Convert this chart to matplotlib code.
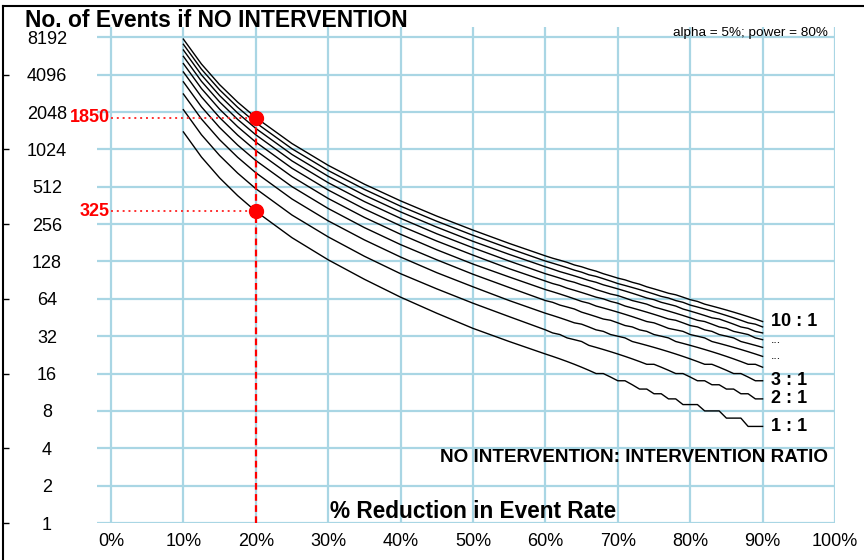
import matplotlib
matplotlib.use("Agg")
import matplotlib.pyplot as plt
from matplotlib.lines import Line2D
from matplotlib.ticker import NullLocator, FixedLocator

plt.rcParams['font.family'] = ['Liberation Sans', 'DejaVu Sans']

# % reduction in event rate (x); coarse where curves are steep, 1% steps in the tail
reduction = [0.10, 0.125, 0.15, 0.175, 0.20, 0.25, 0.30, 0.35, 0.40, 0.45, 0.50, 0.55,
             0.60, 0.61, 0.62, 0.63, 0.64, 0.65, 0.66, 0.67, 0.68, 0.69, 0.70,
             0.71, 0.72, 0.73, 0.74, 0.75, 0.76, 0.77, 0.78, 0.79, 0.80,
             0.81, 0.82, 0.83, 0.84, 0.85, 0.86, 0.87, 0.88, 0.89, 0.90]

# events needed if no intervention, one list per no-intervention:intervention ratio
events_1 = [1416, 888, 604, 434, 325, 199, 132, 92, 66, 49, 37, 29,
            23, 22, 21, 20, 19, 18, 17, 16, 16, 15, 14, 14, 13, 12, 12, 11, 11, 10, 10, 9,
            9, 9, 8, 8, 8, 7, 7, 7, 6, 6, 6]
events_2 = [2139, 1343, 915, 659, 494, 303, 202, 141, 102, 77, 59, 46,
            36, 34, 33, 31, 30, 29, 27, 26, 25, 24, 23, 22, 21, 20, 19, 19, 18, 17, 16, 16,
            15, 14, 14, 13, 13, 12, 12, 11, 11, 10, 10]
events_3 = [2862, 1799, 1226, 884, 664, 408, 272, 191, 139, 104, 80, 62,
            49, 47, 45, 43, 41, 40, 38, 36, 35, 33, 32, 31, 29, 28, 27, 26, 25, 24, 23, 22,
            21, 20, 19, 19, 18, 17, 16, 16, 15, 14, 14]
events_4 = [3585, 2254, 1537, 1109, 833, 513, 342, 240, 175, 132, 101, 79,
            62, 60, 57, 55, 53, 50, 48, 46, 44, 43, 41, 39, 38, 36, 35, 33, 32, 31, 29, 28,
            27, 26, 25, 24, 23, 22, 21, 20, 19, 19, 18]
events_5 = [4307, 2710, 1849, 1334, 1003, 618, 412, 290, 212, 159, 122, 96,
            76, 73, 70, 67, 64, 61, 59, 56, 54, 52, 50, 48, 46, 44, 42, 41, 39, 37, 36, 35,
            33, 32, 31, 29, 28, 27, 26, 25, 24, 23, 22]
events_6 = [5030, 3165, 2160, 1559, 1172, 722, 482, 339, 248, 187, 144, 112,
            89, 85, 82, 78, 75, 72, 69, 66, 64, 61, 59, 56, 54, 52, 50, 48, 46, 44, 43, 41,
            39, 38, 36, 35, 33, 32, 31, 29, 28, 27, 26]
events_7 = [5753, 3620, 2471, 1785, 1342, 827, 552, 389, 285, 214, 165, 129,
            102, 98, 94, 90, 87, 83, 80, 76, 73, 70, 68, 65, 62, 60, 58, 55, 53, 51, 49, 47,
            45, 43, 42, 40, 38, 37, 35, 34, 33, 31, 30]
events_8 = [6475, 4076, 2782, 2010, 1511, 932, 622, 438, 321, 242, 186, 146,
            116, 111, 106, 102, 98, 94, 90, 87, 83, 80, 77, 74, 71, 68, 65, 63, 60, 58, 56, 53,
            51, 49, 47, 45, 44, 42, 40, 38, 37, 35, 34]
events_9 = [7198, 4531, 3094, 2235, 1680, 1036, 692, 488, 357, 270, 208, 163,
            129, 124, 119, 114, 109, 105, 100, 97, 93, 89, 85, 82, 79, 76, 73, 70, 67, 65, 62, 60,
            57, 55, 53, 51, 49, 47, 45, 43, 41, 40, 38]
events_10 = [7921, 4987, 3405, 2460, 1850, 1141, 762, 537, 394, 297, 229, 179,
             142, 136, 131, 126, 120, 116, 111, 107, 102, 98, 94, 91, 87, 84, 80, 77, 74, 71, 69, 66,
             63, 61, 58, 56, 54, 52, 50, 48, 46, 44, 42]
curves = [events_1, events_2, events_3, events_4, events_5,
          events_6, events_7, events_8, events_9, events_10]

# highlighted example: 20% reduction
mark_x = 0.20
mark_values = [1850, 325]

yticks = [1, 2, 4, 8, 16, 32, 64, 128, 256, 512, 1024, 2048, 4096, 8192]
xticks = [0.0, 0.1, 0.2, 0.3, 0.4, 0.5, 0.6, 0.7, 0.8, 0.9, 1.0]

W, H = 864, 560
fig = plt.figure(figsize=(W / 100, H / 100), dpi=100)
ax = fig.add_axes([97 / W, 1 - 523 / H, (835 - 97) / W, (523 - 27) / H])

grid_col = '#a9d6e4'
ax.set_yscale('log', base=2)
ax.set_ylim(1, 2 ** 13.276)
ax.set_xlim(-0.0193, 1.0)
ax.yaxis.set_major_locator(FixedLocator(yticks))
ax.yaxis.set_minor_locator(NullLocator())
ax.set_yticklabels([str(v) for v in yticks])
ax.set_xticks(xticks)
ax.set_xticklabels([f'{round(t * 100)}%' for t in xticks])
ax.grid(True, color=grid_col, lw=1.6)
ax.set_axisbelow(True)
ax.tick_params(axis='both', length=0, labelsize=13)
ax.tick_params(axis='y', pad=36)
ax.tick_params(axis='x', pad=7)
for lab in ax.get_yticklabels():
    lab.set_horizontalalignment('center')
for s in ax.spines.values():
    s.set_visible(False)

for ev in curves:
    ax.plot(reduction, ev, color='black', lw=1.0, zorder=3)

# red guide lines and markers
ax.plot([mark_x, mark_x], [1, mark_values[0]], color='red', lw=1.6,
        ls=(0, (3, 2)), zorder=4)
for v in mark_values:
    ax.plot([0, mark_x], [v, v], color='#ff3030', lw=1.4, ls=(0, (1, 2)), zorder=4)
    ax.plot(mark_x, v, 'o', color='red', ms=10, zorder=5)
    ax.text(-0.002, v, str(v), color='red', fontsize=13, fontweight='bold',
            ha='right', va='center')

# ratio labels at curve ends
lx = 0.912
ax.text(lx, events_10[-1], '10 : 1', fontsize=13, fontweight='bold', va='center')
ax.text(lx, events_7[-1], '...', fontsize=9, va='center')
ax.text(lx, events_5[-1], '...', fontsize=9, va='center')
ax.text(lx, events_3[-1], '3 : 1', fontsize=13, fontweight='bold', va='center')
ax.text(lx, events_2[-1], '2 : 1', fontsize=13, fontweight='bold', va='center')
ax.text(lx, events_1[-1], '1 : 1', fontsize=13, fontweight='bold', va='center')

ax.text(0.9905, 0.123, 'NO INTERVENTION: INTERVENTION RATIO', transform=ax.transAxes,
        fontsize=13.6, fontweight='bold', ha='right', va='baseline')
ax.text(0.51, 0.0101, '% Reduction in Event Rate', transform=ax.transAxes,
        fontsize=16.3, fontweight='bold', ha='center', va='baseline')
ax.text(0.9905, 0.988, 'alpha = 5%; power = 80%', transform=ax.transAxes,
        fontsize=9.7, ha='right', va='center')

fig.text(25 / W, 1 - 27 / H, 'No. of Events if NO INTERVENTION', fontsize=16.5,
         fontweight='bold', ha='left', va='baseline')

# outer frame (left and top edges) with small ticks on the left edge
fig.add_artist(Line2D([2.5 / W, 2.5 / W], [0, 1 - 5.5 / H], color='black', lw=1.5))
fig.add_artist(Line2D([2.5 / W, 1], [1 - 5.5 / H, 1 - 5.5 / H], color='black', lw=1.5))
edge = fig.add_axes([2.5 / W, 1 - 523 / H, 0.0001, (523 - 27) / H])
edge.set_yscale('log', base=2)
edge.set_ylim(ax.get_ylim())
edge.yaxis.set_major_locator(FixedLocator([1, 4, 16, 64, 256, 1024, 4096]))
edge.yaxis.set_minor_locator(NullLocator())
edge.set_xticks([])
edge.tick_params(axis='y', direction='in', length=4, width=1, labelleft=False)
for s in edge.spines.values():
    s.set_visible(False)
edge.patch.set_visible(False)

fig.savefig('out.png', dpi=100)
